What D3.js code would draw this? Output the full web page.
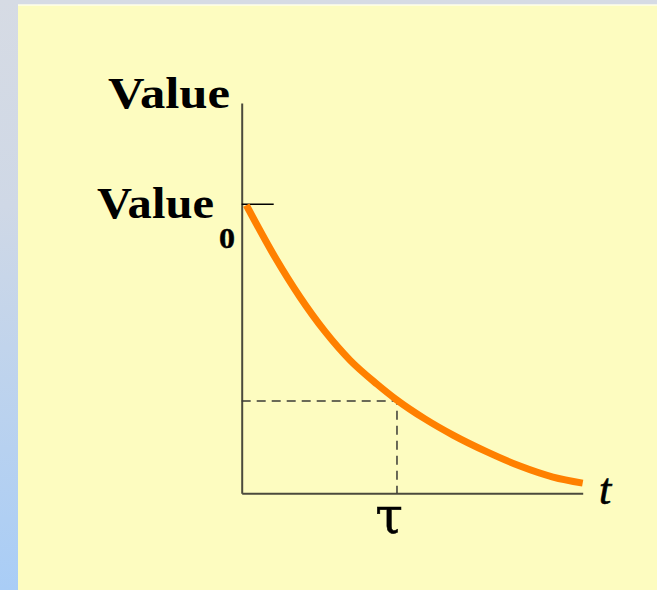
<!DOCTYPE html>
<html>
<head>
<meta charset="utf-8">
<script src="https://cdn.jsdelivr.net/npm/d3@7"></script>
<style>
  html, body { margin: 0; padding: 0; background: #fff; }
  svg { display: block; }
</style>
</head>
<body>
<svg id="chart" width="657" height="590"></svg>
<script>
// ---- data ----
const curveT = [0.03, 0.214, 0.375, 0.536, 0.697, 0.871, 1.0, 1.18, 1.361, 1.58, 1.792, 2.005, 2.196];
const curveV = [0.995, 0.816, 0.678, 0.559, 0.460, 0.377, 0.322, 0.257, 0.201, 0.143, 0.094, 0.056, 0.035];
const tauT = [1.0];
const tauV = [0.319];
const yTickValues = [1.0];
const xTickValues = [1.0];
const yAxisLabel = "Value";
const yTickLabel = "Value";
const yTickSub = "0";
const xTickLabel = "τ";
const xAxisLabel = "t";
const xDomain = [0, 2.196];
const yDomain = [0, 1.348];

// ---- layout ----
const W = 657, H = 590;
const svg = d3.select("#chart");
const defs = svg.append("defs");
const grad = defs.append("linearGradient").attr("id", "bg").attr("x1", 0).attr("y1", 0).attr("x2", 0).attr("y2", 1);
grad.append("stop").attr("offset", "0%").attr("stop-color", "#d6dbe4");
grad.append("stop").attr("offset", "35%").attr("stop-color", "#cfd8e6");
grad.append("stop").attr("offset", "100%").attr("stop-color", "#a9cdf6");
svg.append("rect").attr("width", W).attr("height", H).attr("fill", "url(#bg)");
svg.append("rect").attr("x", 18).attr("y", 4.5).attr("width", W - 18).attr("height", H - 4.5)
  .attr("fill", "#fdfcc0");
svg.append("line").attr("x1", 18).attr("x2", W).attr("y1", 5).attr("y2", 5)
  .attr("stroke", "#ffffff").attr("stroke-width", 1);

const x = d3.scaleLinear().domain(xDomain).range([241.7, 582.7]);
const y = d3.scaleLinear().domain(yDomain).range([493.3, 103]);

// axes
const yAxis = svg.append("g").attr("transform", `translate(${x(0)},0)`)
  .call(d3.axisLeft(y).tickValues(yTickValues).tickSizeInner(-32).tickSizeOuter(0).tickFormat(""));
yAxis.select(".domain").attr("stroke", "#4b4a3c").attr("stroke-width", 2);
yAxis.selectAll(".tick line").attr("stroke", "#000").attr("stroke-width", 1.5);

const xAxis = svg.append("g").attr("transform", `translate(0,${y(0)})`)
  .call(d3.axisBottom(x).tickValues(xTickValues).tickSize(0).tickFormat(""));
xAxis.select(".domain").attr("stroke", "#4b4a3c").attr("stroke-width", 2);

// dashed guide lines
svg.append("path")
  .attr("d", `M${x(0)},${y(tauV[0])}H${x(tauT[0])}V${y(0)}`)
  .attr("fill", "none").attr("stroke", "#3a3a34").attr("stroke-width", 1.5)
  .attr("stroke-dasharray", "9,6");

// curve
const pts = curveT.map((t, i) => [t, curveV[i]]);
const line = d3.line().x(d => x(d[0])).y(d => y(d[1])).curve(d3.curveMonotoneX);
svg.append("path").datum(pts).attr("d", line)
  .attr("fill", "none").attr("stroke", "#ff8000").attr("stroke-width", 7)
  .attr("stroke-linecap", "butt");

// labels
const serif = "'Liberation Serif', 'Times New Roman', serif";
svg.append("text").attr("x", 108).attr("y", 107.5)
  .attr("font-family", serif).attr("font-weight", "bold").attr("font-size", 45)
  .attr("textLength", 122).attr("lengthAdjust", "spacingAndGlyphs")
  .attr("fill", "#000").text(yAxisLabel);

svg.append("text").attr("x", 97).attr("y", y(yTickValues[0]) + 14.5)
  .attr("font-family", serif).attr("font-weight", "bold").attr("font-size", 45)
  .attr("textLength", 117).attr("lengthAdjust", "spacingAndGlyphs")
  .attr("fill", "#000").text(yTickLabel);
svg.append("text").attr("x", 219).attr("y", y(yTickValues[0]) + 44)
  .attr("font-family", serif).attr("font-weight", "bold").attr("font-size", 30)
  .attr("textLength", 16).attr("lengthAdjust", "spacingAndGlyphs")
  .attr("stroke", "#000").attr("stroke-width", 0.4)
  .attr("fill", "#000").text(yTickSub);

svg.append("text").attr("x", x(xTickValues[0]) - 8).attr("y", 533)
  .attr("text-anchor", "middle")
  .attr("font-family", "'DejaVu Serif', serif").attr("font-size", 50)
  .attr("stroke", "#000").attr("stroke-width", 0.5)
  .attr("fill", "#000").text(xTickLabel);

svg.append("text").attr("x", 605).attr("y", 504)
  .attr("text-anchor", "middle")
  .attr("font-family", serif).attr("font-style", "italic").attr("font-size", 44)
  .attr("stroke", "#000").attr("stroke-width", 0.6)
  .attr("fill", "#000").text(xAxisLabel);
</script>
</body>
</html>
